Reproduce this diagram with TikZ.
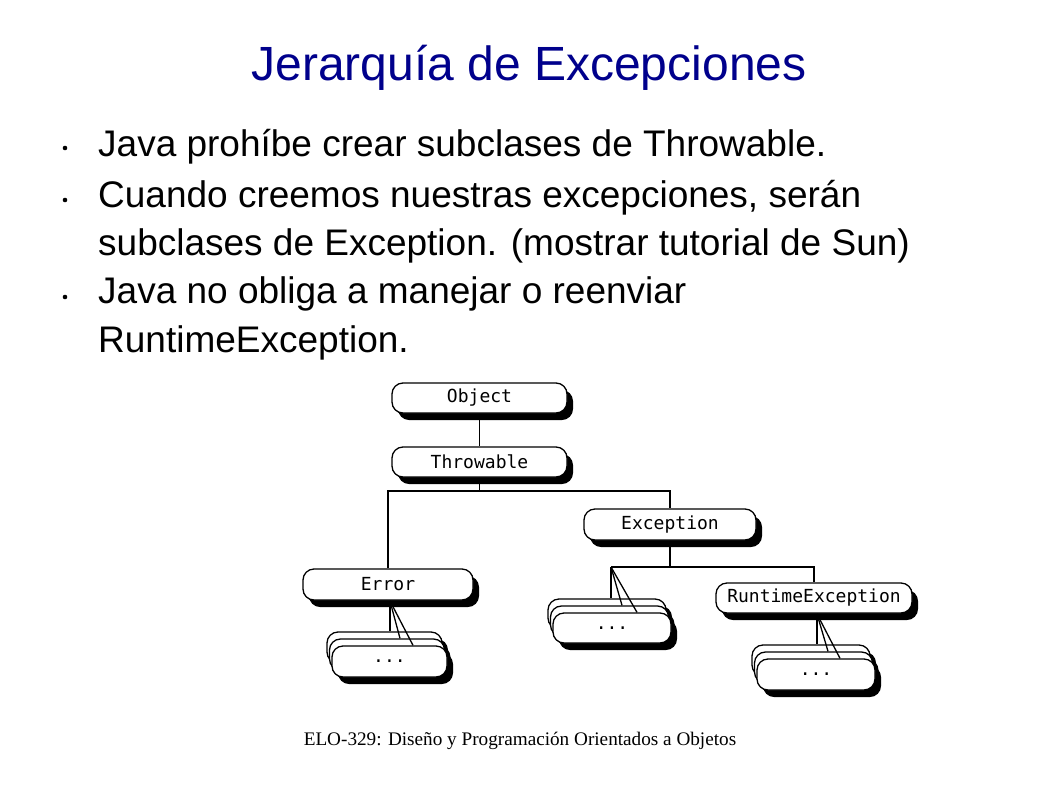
\documentclass[tikz,border=0pt]{standalone}
\usepackage{fontspec}
\setmainfont{Liberation Sans}
\newfontfamily\serifft{Liberation Serif}
\newfontfamily\monoft{DejaVu Sans Mono}
\usetikzlibrary{shadows}
\definecolor{titleblue}{RGB}{0,0,140}
\begin{document}
\begin{tikzpicture}[x=1pt,y=-1pt,
  cls/.style={draw=black, line width=1.3pt, fill=white, rounded corners=11pt,
    minimum height=30pt, inner sep=0pt,
    font=\monoft\fontsize{18}{20}\selectfont,
    general shadow={fill=black, shadow xshift=6pt, shadow yshift=-7pt}},
  link/.style={line width=1.3pt},
  bultext/.style={anchor=base west, inner sep=0pt, font=\fontsize{37}{40}\selectfont},
  bulletdot/.style={fill=black}]
\fill[white] (0,0) rectangle (1058,793);
\useasboundingbox (0,0) rectangle (1058,793);

% title
\node[anchor=base, inner sep=0pt, text=titleblue, font=\fontsize{48}{52}\selectfont] (title) at (529,80) {Jerarquía de Excepciones};

% bullets
\fill[bulletdot] (65,148) circle (2.3);
\fill[bulletdot] (65,200) circle (2.3);
\fill[bulletdot] (65,297) circle (2.3);
\node[bultext] (l1) at (98,156) {Java prohíbe crear subclases de Throwable.};
\node[bultext] (l2) at (98,207) {Cuando creemos nuestras excepciones, serán};
\node[bultext] (l3) at (98,255) {subclases de Exception. (mostrar tutorial de Sun)};
\node[bultext] (l4) at (98,303) {Java no obliga a manejar o reenviar};
\node[bultext] (l5) at (98,352) {RuntimeException.};

% class nodes
\node[cls, minimum width=175pt] (obj) at (479.5,398) {Object};
\node[cls, minimum width=175pt] (thr) at (479.5,462) {Throwable};
\node[cls, minimum width=170pt, minimum height=31pt] (err) at (388,584.5) {Error};
\node[cls, minimum width=172pt, minimum height=31pt] (exc) at (670,524.5) {Exception};
\node[cls, minimum width=196pt] (rte) at (814,598) {RuntimeException};

% Error stack
\node[cls, minimum width=115pt, minimum height=31pt] (erb) at (384.5,647.5) {};
\node[cls, minimum width=115pt, minimum height=31pt] (erm) at (387,654.5) {};
\node[cls, minimum width=115pt, minimum height=31pt] (erf) at (389.5,661.5) {...};

% Exception stack
\node[cls, minimum width=118pt] (exb) at (607,614) {};
\node[cls, minimum width=118pt] (exm) at (609.5,621) {};
\node[cls, minimum width=118pt] (exf) at (612,628) {...};

% RuntimeException stack
\node[cls, minimum width=118pt, minimum height=31pt] (rtb) at (811,660.5) {};
\node[cls, minimum width=118pt, minimum height=31pt] (rtm) at (813.5,667.5) {};
\node[cls, minimum width=118pt, minimum height=31pt] (rtf) at (816,674.5) {...};

% connectors
\coordinate (j1) at (479.5,491);
\coordinate (j2) at (670,567);
\coordinate (j3) at (611,567);
\draw[link] (obj.south) -- (thr.north);
\draw[link] (thr.south) -- (j1);
\draw[link] (err.north) |- (j1) -| (exc.north);
\draw[link] (exc.south) -- (j2);
\draw[link] (j3) -- (j2) -| (rte.north);

% fans
\coordinate (erp) at (390,601);
\draw[link] (erp) -- (erp |- erb.north);
\draw[link] (erp) -- ([xshift=13pt]erm.north);
\draw[link] (erp) -- ([xshift=23.5pt]erf.north);

\draw[link] (j3) -- (j3 |- exb.north);
\draw[link] (j3) -- ([xshift=12.5pt]exm.north);
\draw[link] (j3) -- ([xshift=25pt]exf.north);

\coordinate (rtp) at (817,614);
\draw[link] (rtp) -- (rtp |- rtb.north);
\draw[link] (rtp) -- ([xshift=14.5pt]rtm.north);
\draw[link] (rtp) -- ([xshift=24pt]rtf.north);

% footer
\node[anchor=base, inner sep=0pt, font=\serifft\fontsize{19.2}{23}\selectfont] (foot) at (520,745) {ELO-329: Diseño y Programación Orientados a Objetos};
\end{tikzpicture}
\end{document}
